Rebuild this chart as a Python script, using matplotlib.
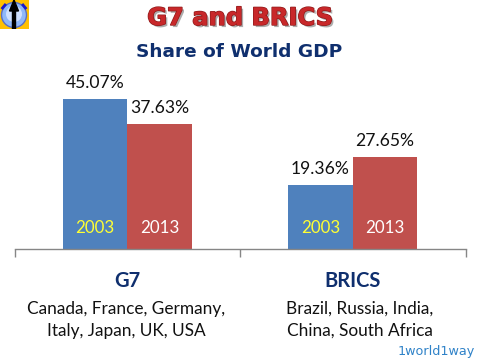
"""G7 and BRICS share of world GDP, grouped bars."""

import matplotlib

matplotlib.use("Agg")
import matplotlib.patheffects as pe
import matplotlib.pyplot as plt
import numpy as np
from matplotlib.patches import Circle, FancyArrow, Rectangle

groups = ["G7", "BRICS"]
members = ["Canada, France, Germany,\nItaly, Japan, UK, USA", "Brazil, Russia, India,\nChina, South Africa"]
years = ["2003", "2013"]
share_2003 = [45.07, 19.36]
share_2013 = [37.63, 27.65]

W, H = 480, 360
NAVY = "#0f2f6e"
BLUE = "#4f81bd"
RED = "#c0504d"
BODY = "Lato"


def px(x, y):
    # figure fraction from pixel position, origin top left
    return x / W, 1 - y / H


fig = plt.figure(figsize=(4.8, 3.6), dpi=100)
ax = fig.add_axes([14.5 / W, 1 - 249 / H, 451 / W, 189 / H])

x = np.arange(len(groups))
width = 0.286
bars_a = ax.bar(x - width / 2, share_2003, width, color=BLUE)
bars_b = ax.bar(x + width / 2, share_2013, width, color=RED)

ax.set_xlim(-0.5, 1.5)
ax.set_ylim(0, 56.8)
ax.set_yticks([])
ax.set_xticks([-0.5, 0.5, 1.5])
ax.set_xticklabels([])
ax.tick_params(axis="x", length=5.5, width=1, color="#868686")
for side in ["top", "left", "right"]:
    ax.spines[side].set_visible(False)
ax.spines["bottom"].set_color("#868686")
ax.spines["bottom"].set_linewidth(1)

for bars, values, year, year_color in [
    (bars_a, share_2003, years[0], "#ffff33"),
    (bars_b, share_2013, years[1], "white"),
]:
    for bar, value in zip(bars, values):
        cx = bar.get_x() + bar.get_width() / 2
        ax.annotate(f"{value:.2f}%", (cx, value), xytext=(0, 11.5), textcoords="offset points",
                    ha="center", va="center", fontsize=12.6, family=BODY, color="#111111")
        ax.annotate(year, (cx, 0), xytext=(0, 15), textcoords="offset points",
                    ha="center", va="center", fontsize=12.2, family=BODY, color=year_color)

# group names and member lists under the axis
name_x = [127, 352.5]
member_x = [126, 360]
for i, name in enumerate(groups):
    fig.text(*px(name_x[i], 281), name, ha="center", va="center", fontsize=14.5, fontweight="bold",
             family=BODY, color=NAVY)
    fig.text(*px(member_x[i], 320), members[i], ha="center", va="center", fontsize=12.4,
             family=BODY, color="#111111", linespacing=1.47)

# headings
fig.text(*px(240, 18), "G7 and BRICS", ha="center", va="center", fontsize=17.4, fontweight="bold",
         family="DejaVu Sans", color="#c8282a",
         path_effects=[pe.withSimplePatchShadow(offset=(1.5, -1.5), shadow_rgbFace="#777777", alpha=0.6),
                       pe.withStroke(linewidth=1, foreground="#8f1c1c")])
fig.text(*px(239.5, 52), "Share of World GDP", ha="center", va="center", fontsize=13.3, fontweight="bold",
         family="DejaVu Sans", color=NAVY)
fig.text(*px(436, 352), "1world1way", ha="center", va="center", fontsize=9.2,
         family="DejaVu Sans", color="#2f82c8")

# logo, top left corner
logo = fig.add_axes([0, 1 - 29 / H, 29 / W, 29 / H])
logo.set_xlim(0, 29)
logo.set_ylim(29, 0)
logo.axis("off")
logo.add_patch(Rectangle((0, 0), 29, 29, color="#ffc000"))
logo.add_patch(Circle((14, 15), 12.5, facecolor="#8fb8f8", edgecolor="#5b6fc0", linewidth=1))
logo.add_patch(Circle((14, 14), 8, facecolor="#cfe0fd", edgecolor="none"))
logo.add_patch(FancyArrow(14, 29, 0, -29, width=3, head_width=9, head_length=11,
                          length_includes_head=True, color="black"))
logo.plot([2.5, 5], [8, 5], color="#1a1acc", lw=2)
logo.plot([23, 25.5], [5, 8], color="#1a1acc", lw=2)

fig.savefig("out.png", dpi=100)
plt.close(fig)
